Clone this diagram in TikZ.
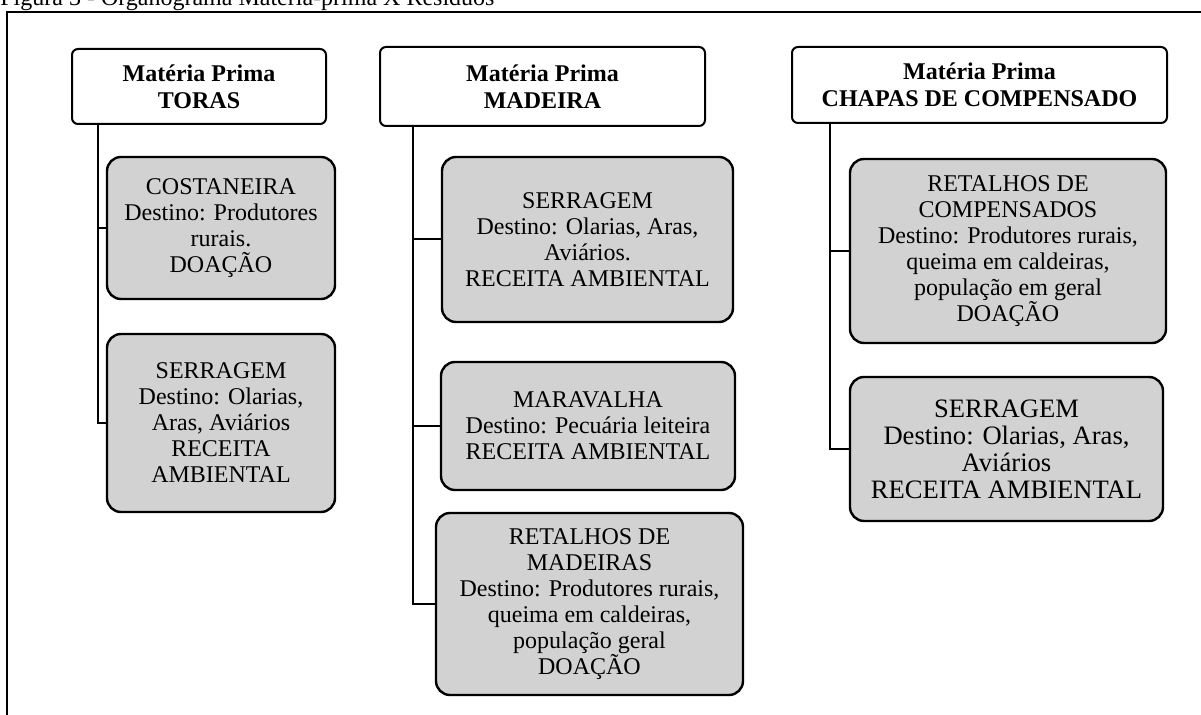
\documentclass[tikz,border=0pt]{standalone}
\usepackage{fontspec}
\setmainfont{Liberation Serif}
\usepackage{xcolor}
\usetikzlibrary{positioning}
\definecolor{boxgray}{RGB}{210,210,210}
\tikzset{
    headbox/.style={rectangle, draw=black, fill=white, line width=1pt, rounded corners=3pt, align=center, font=\bfseries\fontsize{12}{13.5}\selectfont},
    itembox/.style={rectangle, draw=black, fill=boxgray, line width=1.2pt, rounded corners=7pt, align=center, font=\fontsize{12}{13}\selectfont},
    link/.style={draw=black, line width=1pt}
}

\begin{document}
\begin{tikzpicture}[x=0.5pt, y=-0.5pt]
    \useasboundingbox (0,0) rectangle (1201,715);

    % Caption and frame
    \node[anchor=base west, inner sep=0pt, font=\fontsize{12}{13}\selectfont] (caption) at (0,6) {Figura 3 - Organograma Matéria-prima X Resíduos};
    \draw[line width=1pt] (7,760) -- (7,12) -- (1240,12);

    % Raw material headers
    \node[headbox, minimum width=127pt, minimum height=37.5pt] (toras) at (199,86.5) {Matéria Prima\\TORAS};
    \node[headbox, minimum width=162.5pt, minimum height=39.5pt] (madeira) at (542.5,86.5) {Matéria Prima\\MADEIRA};
    \node[headbox, minimum width=187.5pt, minimum height=38pt] (chapas) at (979.5,85) {Matéria Prima\\CHAPAS DE COMPENSADO};

    % Residues from logs
    \node[itembox, minimum width=114pt, minimum height=71pt] (costaneira) at (221,228) {COSTANEIRA\\Destino: Produtores\\rurais.\\DOAÇÃO};
    \node[itembox, minimum width=114pt, minimum height=89pt] (serrtoras) at (221,423) {SERRAGEM\\Destino: Olarias,\\Aras, Aviários\\RECEITA\\AMBIENTAL};

    % Residues from wood
    \node[itembox, minimum width=145.5pt, minimum height=82.5pt] (serrmadeira) at (587.5,239.5) {SERRAGEM\\Destino: Olarias, Aras,\\Aviários.\\RECEITA AMBIENTAL};
    \node[itembox, minimum width=147pt, minimum height=64pt] (maravalha) at (588,426) {MARAVALHA\\Destino: Pecuária leiteira\\RECEITA AMBIENTAL};
    \node[itembox, minimum width=153.5pt, minimum height=91pt] (retmadeira) at (589.5,604) {RETALHOS DE\\MADEIRAS\\Destino: Produtores rurais,\\queima em caldeiras,\\população geral\\DOAÇÃO};

    % Residues from plywood
    \node[itembox, minimum width=158pt, minimum height=92pt] (retcompensado) at (1008,251) {RETALHOS DE\\COMPENSADOS\\Destino: Produtores rurais,\\queima em caldeiras,\\população em geral\\DOAÇÃO};
    \node[itembox, minimum width=156.5pt, minimum height=72pt, font=\fontsize{13.3}{13.5}\selectfont] (serrchapas) at (1006.5,449) {SERRAGEM\\Destino: Olarias, Aras,\\Aviários\\RECEITA AMBIENTAL};

    % Branch lines
    \coordinate (torasbus) at (98,0);
    \coordinate (madeirabus) at (413,0);
    \coordinate (chapasbus) at (830,0);

    \draw[link] (toras.south -| torasbus) |- (serrtoras.west);
    \draw[link] (costaneira.west) -- (costaneira.west -| torasbus);

    \draw[link] (madeira.south -| madeirabus) |- (retmadeira.west);
    \draw[link] (serrmadeira.west) -- (serrmadeira.west -| madeirabus);
    \draw[link] (maravalha.west) -- (maravalha.west -| madeirabus);

    \draw[link] (chapas.south -| chapasbus) |- (serrchapas.west);
    \draw[link] (retcompensado.west) -- (retcompensado.west -| chapasbus);
\end{tikzpicture}
\end{document}
